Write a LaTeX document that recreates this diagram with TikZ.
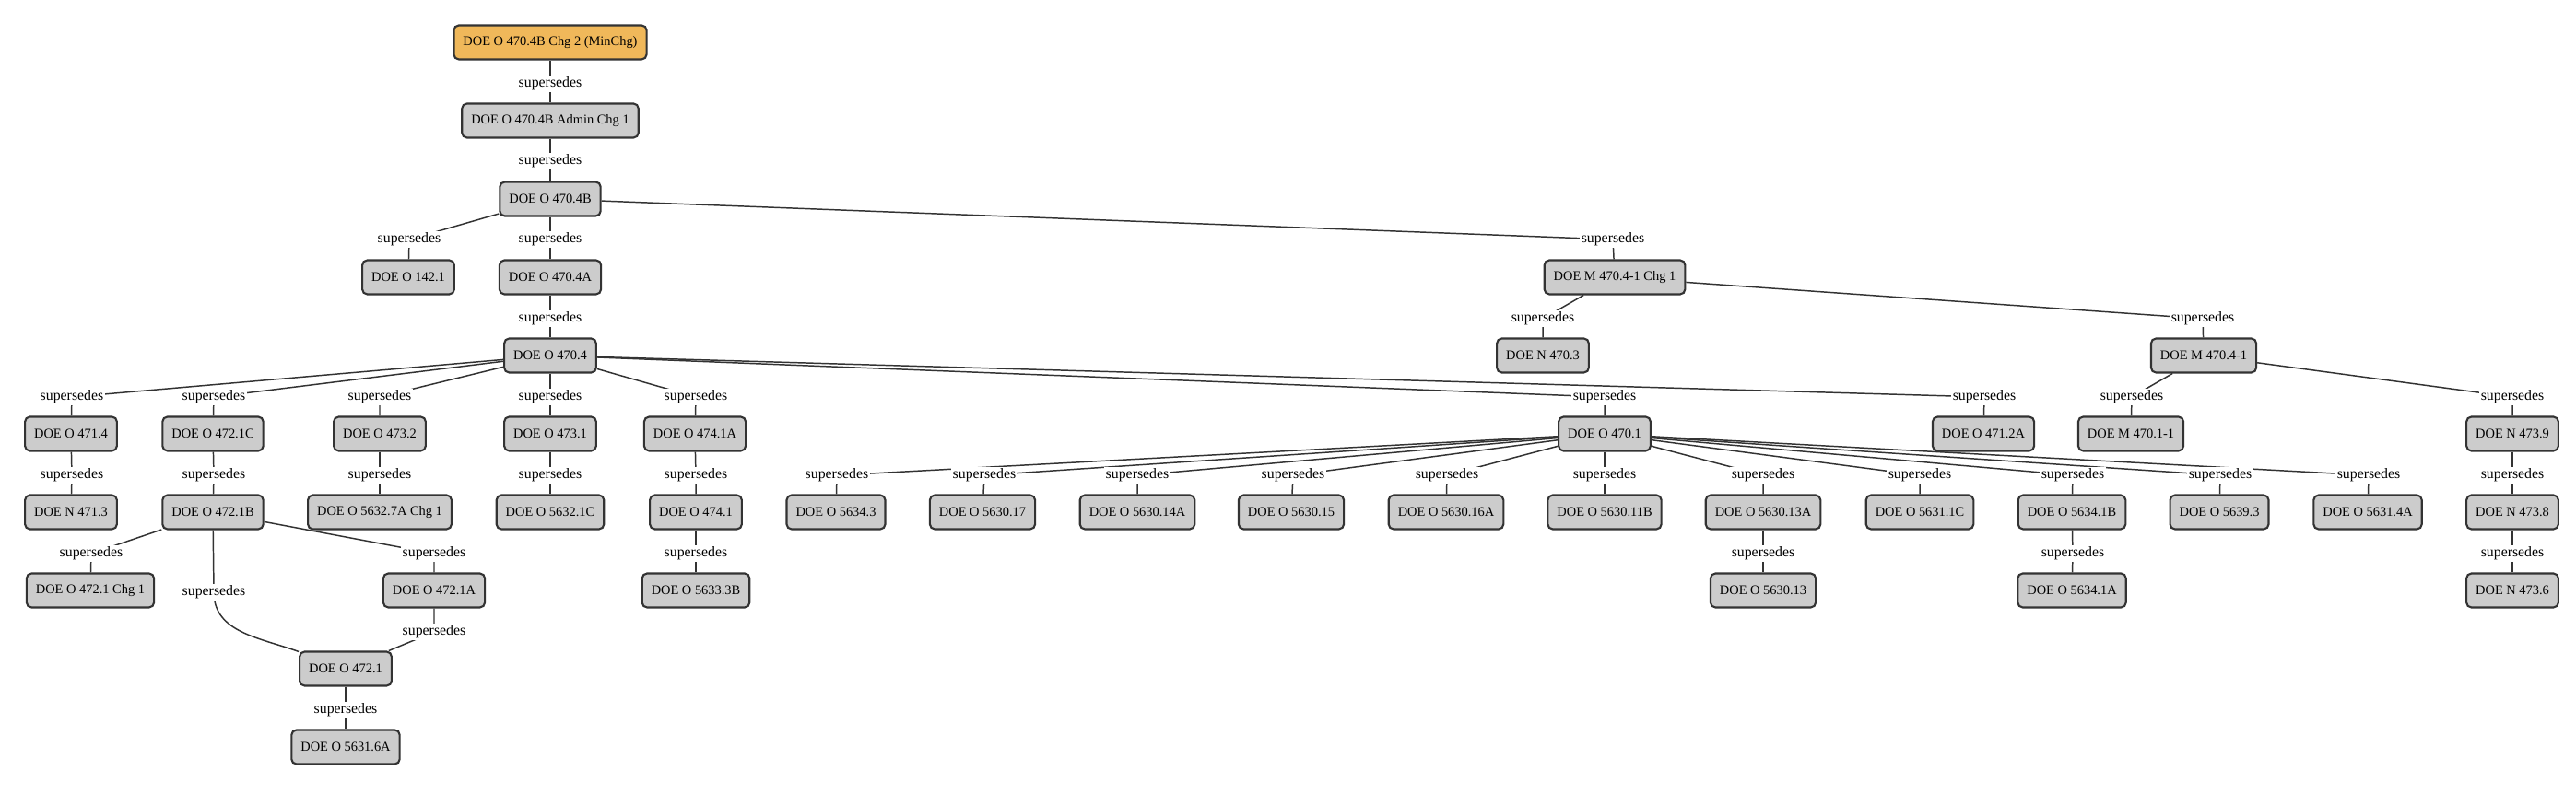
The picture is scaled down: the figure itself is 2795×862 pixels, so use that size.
\documentclass[tikz,border=0pt]{standalone}
\usepackage{fontspec}
\setmainfont{Liberation Serif}
\usetikzlibrary{backgrounds}
\definecolor{boxfill}{RGB}{204,204,204}
\definecolor{boxline}{RGB}{51,51,51}
\definecolor{topfill}{RGB}{240,184,90}
\tikzset{
  doc/.style={draw=boxline, fill=boxfill, line width=0.6pt, rounded corners=1.5pt,
    minimum height=10.5pt, inner xsep=2.85pt, inner ysep=0pt,
    font=\fontsize{4.1}{5}\selectfont},
  rel/.style={fill=white, inner sep=0.4pt, font=\fontsize{4.5}{5}\selectfont},
  edge/.style={draw=boxline, line width=0.42pt},
}
\begin{document}
\begin{tikzpicture}[x=0.01cm,y=-0.01cm]
\useasboundingbox (0,0) rectangle (2795,862);
% documents
\node[doc,fill=topfill] (A0) at (597,46) {DOE O 470.4B Chg 2 (MinChg)};
\node[doc] (A1) at (597,131) {DOE O 470.4B Admin Chg 1};
\node[doc] (A2) at (597,216) {DOE O 470.4B};
\node[doc] (B142) at (443,301) {DOE O 142.1};
\node[doc] (B4704A) at (597,301) {DOE O 470.4A};
\node[doc] (BChg1) at (1752,301) {DOE M 470.4-1 Chg 1};
\node[doc] (C4704) at (597,386) {DOE O 470.4};
\node[doc] (CN4703) at (1674,386) {DOE N 470.3};
\node[doc] (CM4704) at (2391,386) {DOE M 470.4-1};
\node[doc] (D4714) at (77,471) {DOE O 471.4};
\node[doc] (D4721C) at (231,471) {DOE O 472.1C};
\node[doc] (D4732) at (412,471) {DOE O 473.2};
\node[doc] (D4731) at (597,471) {DOE O 473.1};
\node[doc] (D4741A) at (754,471) {DOE O 474.1A};
\node[doc] (D4701) at (1741,471) {DOE O 470.1};
\node[doc] (D4712A) at (2152,471) {DOE O 471.2A};
\node[doc] (DM4701) at (2312,471) {DOE M 470.1-1};
\node[doc] (DN4739) at (2726,471) {DOE N 473.9};
\node[doc] (EN4713) at (77,556) {DOE N 471.3};
\node[doc] (E4721B) at (231,556) {DOE O 472.1B};
\node[doc] (E56327A) at (412,556) {DOE O 5632.7A Chg 1};
\node[doc] (E56321C) at (597,556) {DOE O 5632.1C};
\node[doc] (E4741) at (755,556) {DOE O 474.1};
\node[doc] (E56343) at (907,556) {DOE O 5634.3};
\node[doc] (E563017) at (1066,556) {DOE O 5630.17};
\node[doc] (E563014A) at (1234,556) {DOE O 5630.14A};
\node[doc] (E563015) at (1401,556) {DOE O 5630.15};
\node[doc] (E563016A) at (1569,556) {DOE O 5630.16A};
\node[doc] (E563011B) at (1741,556) {DOE O 5630.11B};
\node[doc] (E563013A) at (1913,556) {DOE O 5630.13A};
\node[doc] (E56311C) at (2083,556) {DOE O 5631.1C};
\node[doc] (E56341B) at (2248,556) {DOE O 5634.1B};
\node[doc] (E56393) at (2408,556) {DOE O 5639.3};
\node[doc] (E56314A) at (2569,556) {DOE O 5631.4A};
\node[doc] (EN4738) at (2726,556) {DOE N 473.8};
\node[doc] (F4721Chg1) at (98,641) {DOE O 472.1 Chg 1};
\node[doc] (F4721A) at (471,641) {DOE O 472.1A};
\node[doc] (F56333B) at (755,641) {DOE O 5633.3B};
\node[doc] (F563013) at (1913,641) {DOE O 5630.13};
\node[doc] (F56341A) at (2248,641) {DOE O 5634.1A};
\node[doc] (FN4736) at (2726,641) {DOE N 473.6};
\node[doc] (G4721) at (375,726) {DOE O 472.1};
\node[doc] (H56316A) at (375,811) {DOE O 5631.6A};
% edge labels
\foreach \n/\x/\y in {A1/597/91, A2/597/175, B142/444/260, B4704A/597/260, BChg1/1750/260,
  C4704/597/346, CN4703/1674/346, CM4704/2390/346,
  D4714/78/431, D4721C/232/431, D4732/412/431, D4731/597/431, D4741A/755/431,
  D4701/1741/431, D4712A/2153/431, DM4701/2313/431, DN4739/2726/431,
  EN4713/78/516, E4721B/232/516, E56327A/412/516, E56321C/597/516, E4741/755/516,
  E56343/908/516, E563017/1068/516, E563014A/1234/516, E563015/1403/516,
  E563016A/1570/516, E563011B/1741/516, E563013A/1913/516, E56311C/2083/516,
  E56341B/2249/516, E56393/2409/516, E56314A/2570/516, EN4738/2726/516,
  F4721Chg1/99/601, F4721A/471/601, F56333B/755/601, F563013/1913/601,
  F56341A/2249/601, FN4736/2726/601,
  G4721a/232/643, G4721b/471/686, H56316A/375/771}
  \node[rel] (l\n) at (\x,\y) {supersedes};
% connectors
\begin{pgfonlayer}{background}
\fill[white] (0,0) rectangle (2795,862);
\foreach \p/\c in {A0/A1, A1/A2, A2/B142, A2/B4704A, A2/BChg1,
  B4704A/C4704, BChg1/CN4703, BChg1/CM4704,
  C4704/D4714, C4704/D4721C, C4704/D4732, C4704/D4731, C4704/D4741A,
  C4704/D4701, C4704/D4712A, CM4704/DM4701, CM4704/DN4739,
  D4714/EN4713, D4721C/E4721B, D4732/E56327A, D4731/E56321C, D4741A/E4741,
  D4701/E56343, D4701/E563017, D4701/E563014A, D4701/E563015, D4701/E563016A,
  D4701/E563011B, D4701/E563013A, D4701/E56311C, D4701/E56341B, D4701/E56393,
  D4701/E56314A, DN4739/EN4738,
  E4721B/F4721Chg1, E4721B/F4721A, E4741/F56333B, E563013A/F563013,
  E56341B/F56341A, EN4738/FN4736, G4721/H56316A}
  \draw[edge] (\p) -- (l\c.center) -- (\c);
\draw[edge] (E4721B) -- (lG4721a.center) to[out=-90,in=160] (G4721);
\draw[edge] (F4721A) -- (lG4721b.center) -- (G4721);
\end{pgfonlayer}
\end{tikzpicture}
\end{document}
